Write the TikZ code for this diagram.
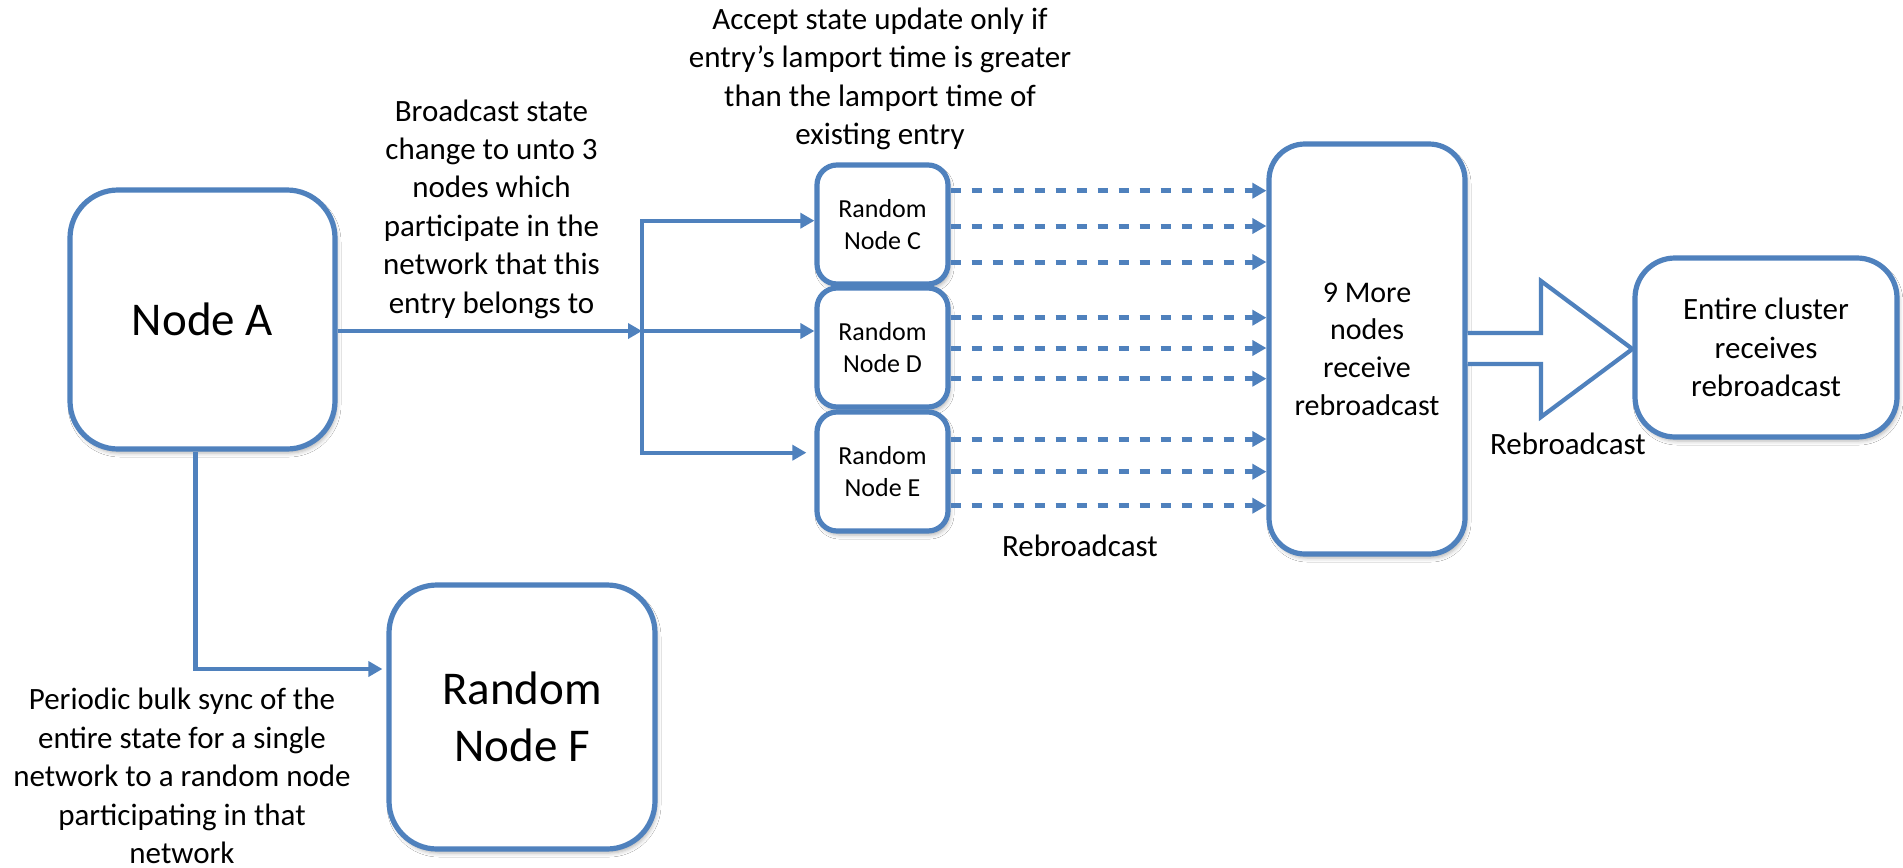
\documentclass[tikz,border=0pt]{standalone}
\usepackage{fontspec}
\setmainfont{Carlito}
\usetikzlibrary{arrows.meta,shadows.blur}
\definecolor{office}{RGB}{79,129,189}

\begin{document}
\begin{tikzpicture}[x=0.5pt,y=-0.5pt,
  box/.style={draw=office, line width=2.6pt, fill=white, rounded corners=#1,
    inner sep=0pt, align=center,
    blur shadow={shadow xshift=1pt, shadow yshift=-2pt, shadow blur radius=2pt, shadow opacity=30}},
  label/.style={align=center, inner sep=0pt, font=\fontsize{15.5pt}{19.2pt}\selectfont},
  link/.style={draw=office, line width=2.1pt, -{Triangle[length=7pt,width=7.5pt]}},
  plain/.style={draw=office, line width=2.1pt},
  dasharrow/.style={draw=office, line width=2.5pt, dash pattern=on 5pt off 5.5pt,
    -{Triangle[length=7pt,width=7.5pt]}},
  bigarrow/.style={draw=office, line width=2.1pt, fill=white, line join=miter}]

\useasboundingbox (0,0) rectangle (1903,868);
\fill[white] (0,0) rectangle (1903,868);

% boxes
\node[box=24pt, minimum width=132.5pt, minimum height=129.5pt,
  font=\fontsize{23.5pt}{28pt}\selectfont] (A) at (202.5,319.5) {Node A};
\node[box=24pt, minimum width=133pt, minimum height=132pt,
  font=\fontsize{23.5pt}{28.5pt}\selectfont] (F) at (522,717) {Random\\Node F};
\node[box=10pt, minimum width=65.5pt, minimum height=59.5pt,
  font=\fontsize{13pt}{15.8pt}\selectfont] (C) at (882.5,224.5) {Random\\Node C};
\node[box=10pt, minimum width=65.5pt, minimum height=59.5pt,
  font=\fontsize{13pt}{15.8pt}\selectfont] (D) at (882.5,347.5) {Random\\Node D};
\node[box=10pt, minimum width=65.5pt, minimum height=59.5pt,
  font=\fontsize{13pt}{15.8pt}\selectfont] (E) at (882.5,471.5) {Random\\Node E};
\node[box=18pt, minimum width=98pt, minimum height=205pt,
  font=\fontsize{15pt}{18.8pt}\selectfont] (m) at (1367,349) {9 More\\nodes\\receive\\rebroadcast};
\node[box=20pt, minimum width=131pt, minimum height=89.5pt,
  font=\fontsize{15.5pt}{19.2pt}\selectfont] (cl) at (1766,347.5) {Entire cluster\\receives\\rebroadcast};

% broadcast from Node A to C, D and E
\coordinate (J) at (642,331);
\coordinate (jtop) at (642,220.7);
\coordinate (jbot) at (642,452.7);
\draw[link] (A.east |- J) -- (J);
\draw[link] (J) -- (D.west |- J);
\draw[plain, line cap=rect] (jtop) -- (jbot);
\draw[link] (jtop) -- (C.west |- jtop);
\draw[link] (jbot) -- ([xshift=-4pt]E.west |- jbot);

% periodic bulk sync to Node F
\coordinate (fk) at (195.5,669);
\draw[link] (A.south -| fk) -- (fk) -- ([xshift=-2pt]F.west |- fk);

% rebroadcast to the nine further nodes
\foreach \y in {190.7,226,262}
  \draw[dasharrow] (C.east |- 0,\y) -- (m.west |- 0,\y);
\foreach \y in {317.7,348,378.7}
  \draw[dasharrow] (D.east |- 0,\y) -- (m.west |- 0,\y);
\foreach \y in {439,471.7,505.7}
  \draw[dasharrow] (E.east |- 0,\y) -- (m.west |- 0,\y);

% outline arrow to the whole cluster
\draw[bigarrow] (m.east |- 0,333) -- (1541,333) -- (1541,281) -- (cl.west |- 0,349)
  -- (1541,417) -- (1541,364) -- (m.east |- 0,364);

% labels
\node[label] (acc) at (880,79) {Accept state update only if\\entry’s lamport time is greater\\than the lamport time of\\existing entry};
\node[label] (bc) at (491.5,209) {Broadcast state\\change to unto 3\\nodes which\\participate in the\\network that this\\entry belongs to};
\node[label] (sync) at (182,776) {Periodic bulk sync of the\\entire state for a single\\network to a random node\\participating in that\\network};
\node[label] (rb1) at (1080,546) {Rebroadcast};
\node[label] (rb2) at (1568,444) {Rebroadcast};
\end{tikzpicture}
\end{document}
